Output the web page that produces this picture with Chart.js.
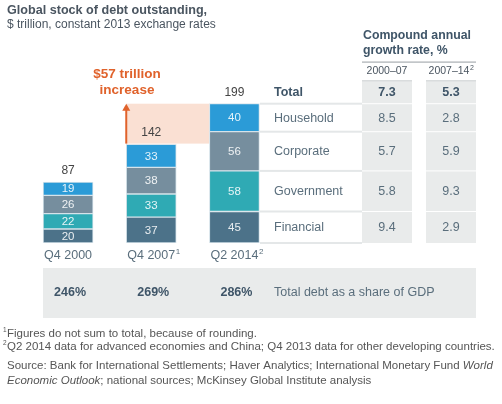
<!DOCTYPE html>
<html>
<head>
<meta charset="utf-8">
<style>
  html, body { margin: 0; padding: 0; background: #fff; }
  #wrap { width: 502px; height: 404px; position: relative; }
</style>
</head>
<body>
<div id="wrap">
  <canvas id="debtChart" width="502" height="404"></canvas>
</div>

<script src="https://cdn.jsdelivr.net/npm/chart.js"></script>

<script>
  // data
  const categories = ['Q4 2000', 'Q4 2007', 'Q2 2014'];
  const catNotes = ['', '1', '2'];
  const financial = [20, 37, 45];
  const government = [22, 33, 58];
  const corporate = [26, 38, 56];
  const household = [19, 33, 40];
  const totals = [87, 142, 199];
  const gdpShare = ['246%', '269%', '286%'];
  const sectors = ['Household', 'Corporate', 'Government', 'Financial'];
  const growth2000_07 = [8.5, 5.7, 5.8, 9.4];
  const growth2007_14 = [2.8, 5.9, 9.3, 2.9];
  const totalGrowth = [7.3, 5.3];
  const increaseLabel = ['$57 trillion', 'increase'];

  const FONT = '"Liberation Sans", Arial, sans-serif';
  const ORANGE = '#e0622b';
  const TEXT = '#5a6e7c';
  const DARK = '#3f5568';
  const GREY = '#e9ebeb';

  function font(size, bold, italic) {
    return (italic ? 'italic ' : '') + (bold ? 'bold ' : '') + size + 'px ' + FONT;
  }

  // everything around the bars: table, labels, notes
  const decorations = {
    id: 'decorations',
    beforeDatasetsDraw(chart) {
      const c = chart.ctx;
      const y = chart.scales.y;
      const b1 = chart.getDatasetMeta(0).data[1];
      const b2 = chart.getDatasetMeta(0).data[2];
      const top142 = y.getPixelForValue(totals[1]);
      const top199 = y.getPixelForValue(totals[2]);
      c.save();
      // shaded increase
      c.fillStyle = '#fae0d3';
      c.fillRect(b1.x - b1.width / 2, top199, (b2.x - b2.width / 2) - (b1.x - b1.width / 2), top142 - top199);
      // GDP band
      c.fillStyle = GREY;
      c.fillRect(43, 268, 433, 50);
      c.restore();
    },
    afterDatasetsDraw(chart) {
      const c = chart.ctx;
      const y = chart.scales.y;
      c.save();
      c.textBaseline = 'middle';

      // segment values
      chart.data.datasets.forEach((ds, di) => {
        chart.getDatasetMeta(di).data.forEach((bar, i) => {
          c.fillStyle = 'rgba(255,255,255,0.88)';
          c.font = font(11.5);
          c.textAlign = 'center';
          c.fillText(ds.data[i], bar.x, (bar.y + bar.base) / 2 + 0.5);
        });
      });

      const bars = chart.getDatasetMeta(0).data;
      // totals and category labels
      bars.forEach((bar, i) => {
        c.fillStyle = '#444';
        c.font = font(12);
        c.textAlign = 'center';
        c.fillText(totals[i], bar.x, y.getPixelForValue(totals[i]) - 11);

        c.fillStyle = TEXT;
        c.font = font(12.5);
        const w = c.measureText(categories[i]).width;
        c.textAlign = 'left';
        c.fillText(categories[i], bar.x - w / 2, 256);
        if (catNotes[i]) {
          c.font = font(8);
          c.fillText(catNotes[i], bar.x + w / 2 + 0.5, 252);
        }

        c.fillStyle = DARK;
        c.font = font(12.5, true);
        c.textAlign = 'center';
        c.fillText(gdpShare[i], bar.x + 2, 293);
      });

      // arrow for the increase
      const ax = bars[1].x - bars[1].width / 2;
      const a0 = y.getPixelForValue(totals[1]);
      const a1 = y.getPixelForValue(totals[2]);
      c.strokeStyle = ORANGE;
      c.lineWidth = 2;
      c.beginPath();
      c.moveTo(ax, a0);
      c.lineTo(ax, a1 + 5);
      c.stroke();
      c.fillStyle = ORANGE;
      c.beginPath();
      c.moveTo(ax, a1);
      c.lineTo(ax - 4, a1 + 7);
      c.lineTo(ax + 4, a1 + 7);
      c.closePath();
      c.fill();
      c.font = font(13.5, true);
      c.textAlign = 'center';
      c.fillText(increaseLabel[0], 127, 74);
      c.fillText(increaseLabel[1], 127, 90);

      // table rows follow the Q2 2014 segments
      const col1 = 362, col2 = 426, colW = 50;
      const rowTop = 80;
      const rowBottoms = [3, 2, 1, 0].map(d => chart.getDatasetMeta(d).data[2]);
      const totalBottom = a1;
      c.fillStyle = GREY;
      c.fillRect(col1, rowTop, colW, bars[2].base - rowTop);
      c.fillRect(col2, rowTop, colW, bars[2].base - rowTop);
      c.fillStyle = '#d9dcdd';
      c.fillRect(col1, rowTop, colW, 1.5);
      c.fillRect(col2, rowTop, colW, 1.5);

      // separators
      c.fillStyle = '#e4e7e8';
      c.fillRect(260, totalBottom - 1, 102, 2);
      rowBottoms.forEach(bar => {
        c.fillRect(260, bar.base - 1, 102, 2);
      });
      c.fillStyle = '#ffffff';
      rowBottoms.slice(0, 3).forEach(bar => {
        c.fillRect(col1, bar.base - 0.5, colW, 1);
        c.fillRect(col2, bar.base - 0.5, colW, 1);
      });
      c.fillRect(col1, totalBottom - 0.5, colW, 1);
      c.fillRect(col2, totalBottom - 0.5, colW, 1);

      // total row
      const tMid = (rowTop + totalBottom) / 2 + 1;
      c.fillStyle = DARK;
      c.font = font(12.5, true);
      c.textAlign = 'left';
      c.fillText('Total', 274, tMid);
      c.textAlign = 'center';
      c.fillText(totalGrowth[0].toFixed(1), col1 + colW / 2, tMid);
      c.fillText(totalGrowth[1].toFixed(1), col2 + colW / 2, tMid);

      rowBottoms.forEach((bar, r) => {
        const mid = (bar.y + bar.base) / 2 + 0.5;
        c.fillStyle = TEXT;
        c.font = font(12.5);
        c.textAlign = 'left';
        c.fillText(sectors[r], 274, mid);
        c.textAlign = 'center';
        c.fillText(growth2000_07[r].toFixed(1), col1 + colW / 2, mid);
        c.fillText(growth2007_14[r].toFixed(1), col2 + colW / 2, mid);
      });

      // table header
      c.fillStyle = DARK;
      c.font = font(12.3, true);
      c.textAlign = 'left';
      c.fillText('Compound annual', 363, 36);
      c.fillText('growth rate, %', 363, 51);
      c.fillStyle = '#a9aeb2';
      c.fillRect(362, 61.5, 114, 1.2);
      c.fillStyle = '#4a5560';
      c.font = font(10.5);
      c.textAlign = 'center';
      c.fillText('2000\u201307', col1 + colW / 2, 71);
      const lbl = '2007\u201314';
      const lw = c.measureText(lbl).width;
      c.textAlign = 'left';
      c.fillText(lbl, col2 + colW / 2 - lw / 2 - 2, 71);
      c.font = font(7);
      c.fillText('2', col2 + colW / 2 + lw / 2 - 1.5, 68);

      c.fillStyle = TEXT;
      c.font = font(12.5);
      c.fillText('Total debt as a share of GDP', 274, 293);

      // title
      c.fillStyle = '#4a5560';
      c.font = font(12.6, true);
      c.fillText('Global stock of debt outstanding,', 7, 10.5);
      c.font = font(12);
      c.fillText('$ trillion, constant 2013 exchange rates', 7, 25);

      // footnotes
      const fs = 11.5;
      c.fillStyle = '#555';
      c.font = font(6.5);
      c.fillText('1', 3, 330);
      c.fillText('2', 3, 343);
      c.font = font(fs);
      c.fillText('Figures do not sum to total, because of rounding.', 7, 334);
      c.fillText('Q2 2014 data for advanced economies and China; Q4 2013 data for other developing countries.', 7, 347);
      const src = 'Source: Bank for International Settlements; Haver Analytics; International Monetary Fund ';
      c.fillText(src, 7, 366);
      const sw = c.measureText(src).width;
      c.font = font(fs, false, true);
      c.fillText('World', 7 + sw, 366);
      c.fillText('Economic Outlook', 7, 381);
      const eo = c.measureText('Economic Outlook').width;
      c.font = font(fs);
      c.fillText('; national sources; McKinsey Global Institute analysis', 7 + eo, 381);

      c.restore();
    }
  };

  const ctx = document.getElementById('debtChart');
  new Chart(ctx, {
    type: 'bar',
    data: {
      labels: categories,
      datasets: [
        { label: 'Financial', data: financial, backgroundColor: '#4c7289' },
        { label: 'Government', data: government, backgroundColor: '#2faab4' },
        { label: 'Corporate', data: corporate, backgroundColor: '#768e9e' },
        { label: 'Household', data: household, backgroundColor: '#2b9bd7' }
      ].map(ds => Object.assign(ds, {
        borderColor: '#d6e3ea',
        borderWidth: 1,
        borderSkipped: false,
        barThickness: 50
      }))
    },
    options: {
      responsive: false,
      animation: false,
      devicePixelRatio: 1,
      layout: { padding: { left: 26.5, right: 226, top: 103, bottom: 161 } },
      scales: {
        x: { stacked: true, display: false },
        y: { stacked: true, display: false, min: 0, max: 200 }
      },
      plugins: {
        legend: { display: false },
        tooltip: { enabled: false }
      }
    },
    plugins: [decorations]
  });
</script>
</body>
</html>
